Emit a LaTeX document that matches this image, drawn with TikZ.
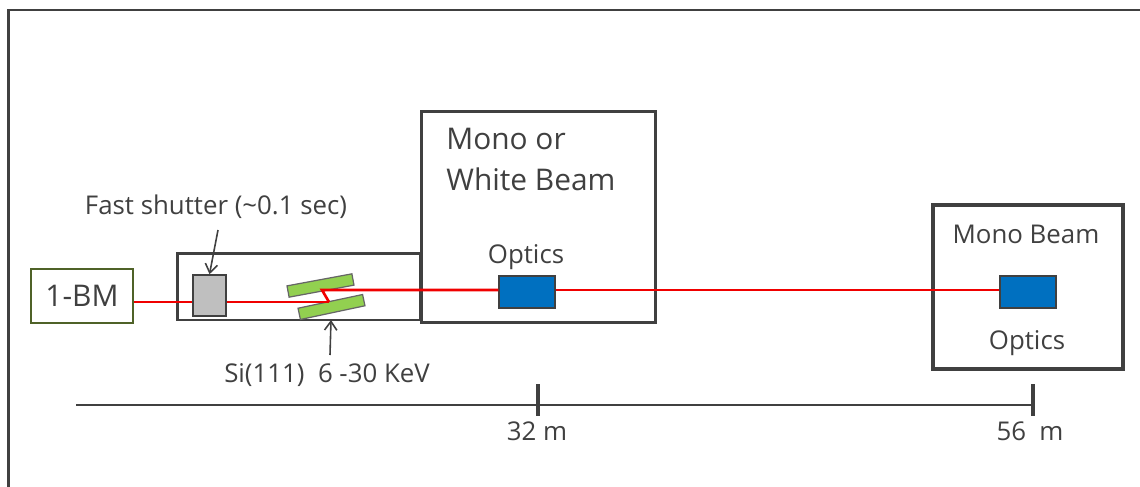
\documentclass[tikz,border=0pt]{standalone}
\usepackage{fontspec}
\setmainfont{Open Sans}
\usetikzlibrary{arrows.meta}
\definecolor{inkgray}{HTML}{404040}
\definecolor{beamred}{HTML}{F00000}
\definecolor{optblue}{HTML}{0070C0}
\definecolor{crystgreen}{HTML}{92D050}
\definecolor{srcolive}{HTML}{4F6228}
\begin{document}
\begin{tikzpicture}[x=0.02cm,y=0.02cm]
\tikzstyle{every node}+=[inner sep=0pt]
\tikzstyle{box}=[draw=inkgray,line width=1.7pt,minimum width=#1]
\tikzstyle{optics}=[draw=inkgray,line width=0.7pt,fill=optblue,minimum width=1.12cm,minimum height=0.64cm]
\tikzstyle{crystal}=[draw=inkgray!80,line width=0.7pt,fill=crystgreen,minimum width=1.32cm,minimum height=0.23cm]
\tikzstyle{label}=[text=inkgray,font=\fontsize{14.7}{17}\selectfont]
\tikzstyle{biglabel}=[text=inkgray,font=\fontsize{17}{20}\selectfont]
\tikzstyle{pointer}=[draw=inkgray,line width=0.9pt,-{Straight Barb[length=5pt,width=7pt]}]
\useasboundingbox (0,0) rectangle (1140,-487);
\draw [inkgray,line width=1.3pt] (8.5,-487) -- (8.5,-10) -- (1140,-10);
\node (src) [draw=srcolive,line width=0.9pt,minimum width=2.04cm,minimum height=1.08cm,biglabel] at (82,-296) {1-BM};
\node (tube) [box=4.88cm,minimum height=1.34cm] at (299,-286.5) {};
\node (mono) [box=4.67cm,minimum height=4.24cm] at (538.3,-217) {};
\node (far) [draw=inkgray,line width=2.6pt,minimum width=3.8cm,minimum height=3.28cm] at (1028,-287) {};
\node (shutter) [draw=inkgray,line width=0.9pt,fill=gray!50,minimum width=0.66cm,minimum height=0.82cm] at (209.5,-295.5) {};
\node (upper) [crystal,rotate=10.5] at (320.5,-285.5) {};
\node (lower) [crystal,rotate=12] at (331.5,-307) {};
\node (opt1) [optics] at (527,-292) {};
\node (opt2) [optics] at (1028,-292) {};
\coordinate (hit) at (329,-302);
\coordinate (turn) at (322,-290);
\draw [beamred,line width=1pt] (src.east |- 0,-302) -- (shutter.west |- 0,-302);
\draw [beamred,line width=1pt] (shutter.east |- 0,-302) -- (hit);
\draw [beamred,line width=1.5pt] (hit) -- (turn) -- (opt1.west |- turn);
\draw [beamred,line width=1.5pt] (opt1.east |- turn) -- (opt2.west |- turn);
\node (shuttertxt) [label] at (216,-207) {Fast shutter (\textasciitilde0.1 sec)};
\node (sitxt) [label] at (327,-375) {Si(111)\ \ 6 -30 KeV};
\draw [pointer] (218,-230) -- (shutter.north);
\draw [pointer] (330,-355) -- (331,-320);
\node (monotxt) [biglabel,anchor=west] at (446,-139) {Mono or};
\node (whitetxt) [biglabel,anchor=west] at (446,-179) {White Beam};
\node (opttxt1) [label] at (526,-257) {Optics};
\node (fartxt) [label] at (1026,-234) {Mono Beam};
\node (opttxt2) [label] at (1027,-343) {Optics};
\coordinate (start) at (76,-405);
\coordinate (mark1) at (538,-405);
\coordinate (mark2) at (1033,-405);
\draw [inkgray,line width=1pt] (start) -- (mark2);
\draw [inkgray,line width=2.1pt] (538,-384) -- (538,-416);
\draw [inkgray,line width=2.1pt] (1033,-384) -- (1033,-416);
\node (dist1) [label] at (537,-431) {32 m};
\node (dist2) [label] at (1030,-431) {56\ \ m};
\end{tikzpicture}
\end{document}
